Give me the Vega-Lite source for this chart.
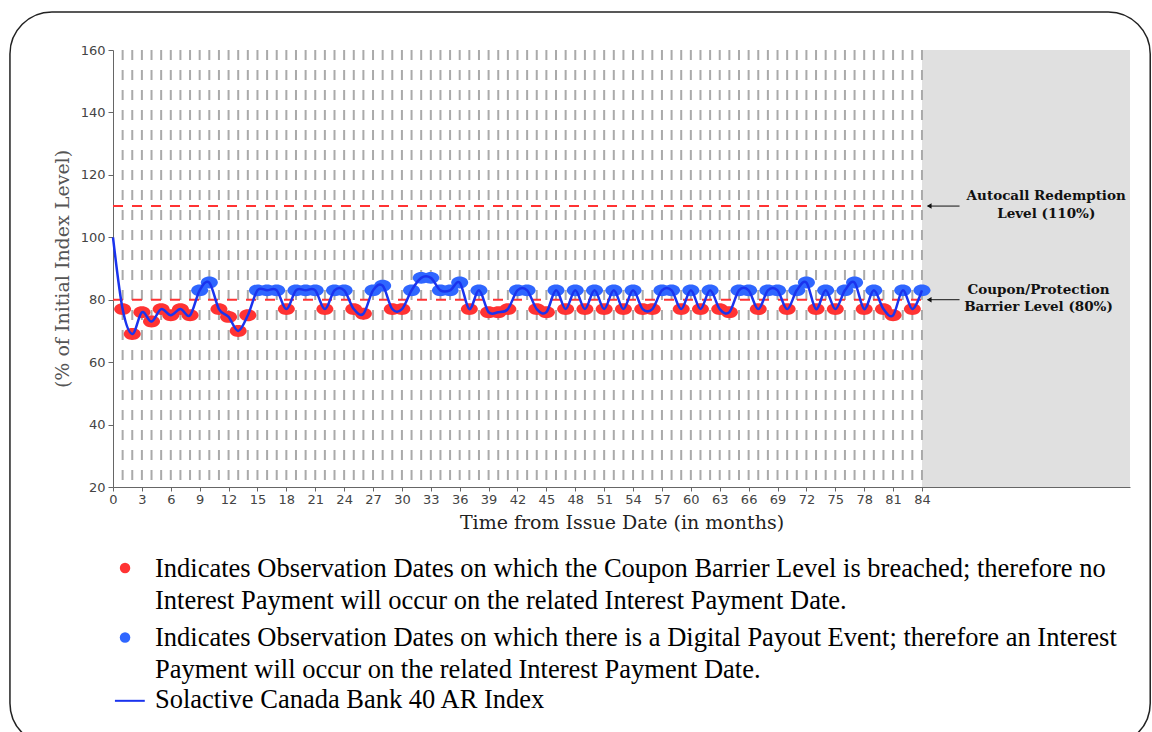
{
  "$schema": "https://vega.github.io/schema/vega-lite/v6.json",
  "width": 1017,
  "height": 437,
  "autosize": {"type": "none"},
  "padding": {"left": 113, "top": 50, "right": 22, "bottom": 245},
  "background": "white",
  "config": {
    "view": {"stroke": null},
    "axis": {"domainColor": "#666", "tickColor": "#666", "labelColor": "#444", "labelFont": "DejaVu Sans", "labelFontSize": 13, "titleFont": "DejaVu Serif", "titleFontWeight": "normal", "titleFontSize": 19, "grid": false},
    "axisX": {"tickSize": 4, "labelPadding": 2, "titlePadding": 7, "titleColor": "#222"},
    "axisY": {"tickSize": 5, "labelPadding": 3, "titlePadding": 8, "titleColor": "#555"}
  },
  "datasets": {
    "series": [
      {"month": 0, "value": 100, "status": null},
      {"month": 1, "value": 77, "status": "breach"},
      {"month": 2, "value": 69, "status": "breach"},
      {"month": 3, "value": 76, "status": "breach"},
      {"month": 4, "value": 73, "status": "breach"},
      {"month": 5, "value": 77, "status": "breach"},
      {"month": 6, "value": 75, "status": "breach"},
      {"month": 7, "value": 77, "status": "breach"},
      {"month": 8, "value": 75, "status": "breach"},
      {"month": 9, "value": 83, "status": "payout"},
      {"month": 10, "value": 85.5, "status": "payout"},
      {"month": 11, "value": 77, "status": "breach"},
      {"month": 12, "value": 74.5, "status": "breach"},
      {"month": 13, "value": 70, "status": "breach"},
      {"month": 14, "value": 75, "status": "breach"},
      {"month": 15, "value": 83, "status": "payout"},
      {"month": 16, "value": 83, "status": "payout"},
      {"month": 17, "value": 83, "status": "payout"},
      {"month": 18, "value": 77, "status": "breach"},
      {"month": 19, "value": 83, "status": "payout"},
      {"month": 20, "value": 83, "status": "payout"},
      {"month": 21, "value": 83, "status": "payout"},
      {"month": 22, "value": 77, "status": "breach"},
      {"month": 23, "value": 83, "status": "payout"},
      {"month": 24, "value": 83, "status": "payout"},
      {"month": 25, "value": 77, "status": "breach"},
      {"month": 26, "value": 75.5, "status": "breach"},
      {"month": 27, "value": 83, "status": "payout"},
      {"month": 28, "value": 84.5, "status": "payout"},
      {"month": 29, "value": 77, "status": "breach"},
      {"month": 30, "value": 77, "status": "breach"},
      {"month": 31, "value": 83, "status": "payout"},
      {"month": 32, "value": 87, "status": "payout"},
      {"month": 33, "value": 87, "status": "payout"},
      {"month": 34, "value": 83, "status": "payout"},
      {"month": 35, "value": 83, "status": "payout"},
      {"month": 36, "value": 85.5, "status": "payout"},
      {"month": 37, "value": 77, "status": "breach"},
      {"month": 38, "value": 83, "status": "payout"},
      {"month": 39, "value": 76, "status": "breach"},
      {"month": 40, "value": 76, "status": "breach"},
      {"month": 41, "value": 77, "status": "breach"},
      {"month": 42, "value": 83, "status": "payout"},
      {"month": 43, "value": 83, "status": "payout"},
      {"month": 44, "value": 77, "status": "breach"},
      {"month": 45, "value": 76, "status": "breach"},
      {"month": 46, "value": 83, "status": "payout"},
      {"month": 47, "value": 77, "status": "breach"},
      {"month": 48, "value": 83, "status": "payout"},
      {"month": 49, "value": 77, "status": "breach"},
      {"month": 50, "value": 83, "status": "payout"},
      {"month": 51, "value": 77, "status": "breach"},
      {"month": 52, "value": 83, "status": "payout"},
      {"month": 53, "value": 77, "status": "breach"},
      {"month": 54, "value": 83, "status": "payout"},
      {"month": 55, "value": 77, "status": "breach"},
      {"month": 56, "value": 77, "status": "breach"},
      {"month": 57, "value": 83, "status": "payout"},
      {"month": 58, "value": 83, "status": "payout"},
      {"month": 59, "value": 77, "status": "breach"},
      {"month": 60, "value": 83, "status": "payout"},
      {"month": 61, "value": 77, "status": "breach"},
      {"month": 62, "value": 83, "status": "payout"},
      {"month": 63, "value": 77, "status": "breach"},
      {"month": 64, "value": 76, "status": "breach"},
      {"month": 65, "value": 83, "status": "payout"},
      {"month": 66, "value": 83, "status": "payout"},
      {"month": 67, "value": 77, "status": "breach"},
      {"month": 68, "value": 83, "status": "payout"},
      {"month": 69, "value": 83, "status": "payout"},
      {"month": 70, "value": 77, "status": "breach"},
      {"month": 71, "value": 83, "status": "payout"},
      {"month": 72, "value": 85.5, "status": "payout"},
      {"month": 73, "value": 77, "status": "breach"},
      {"month": 74, "value": 83, "status": "payout"},
      {"month": 75, "value": 77, "status": "breach"},
      {"month": 76, "value": 83, "status": "payout"},
      {"month": 77, "value": 85.5, "status": "payout"},
      {"month": 78, "value": 77, "status": "breach"},
      {"month": 79, "value": 83, "status": "payout"},
      {"month": 80, "value": 77, "status": "breach"},
      {"month": 81, "value": 75, "status": "breach"},
      {"month": 82, "value": 83, "status": "payout"},
      {"month": 83, "value": 77, "status": "breach"},
      {"month": 84, "value": 83, "status": "payout"}
    ],
    "levels": [{"level": 110}, {"level": 80}],
    "one": [{}]
  },
  "layer": [
    {
      "data": {"name": "series"},
      "mark": {"type": "line", "interpolate": "cardinal", "color": "#1a33ee", "strokeWidth": 2.5, "opacity": 0},
      "encoding": {
        "x": {"field": "month", "type": "quantitative", "scale": {"domain": [0, 105.6], "nice": false, "zero": false}, "axis": {"values": [0, 3, 6, 9, 12, 15, 18, 21, 24, 27, 30, 33, 36, 39, 42, 45, 48, 51, 54, 57, 60, 63, 66, 69, 72, 75, 78, 81, 84], "tickCount": 30, "format": "d", "labelOverlap": false, "labelBound": false, "labelFlush": false, "title": "Time from Issue Date (in months)"}},
        "y": {"field": "value", "type": "quantitative", "scale": {"domain": [20, 160], "nice": false, "zero": false}, "axis": {"values": [20, 40, 60, 80, 100, 120, 140, 160], "tickCount": 10, "format": "d", "labelOverlap": false, "title": "(% of Initial Index Level)"}}
      }
    },
    {
      "data": {"name": "one"},
      "mark": {"type": "rect", "fill": "#e0e0e0"},
      "encoding": {
        "x": {"datum": 84, "type": "quantitative"},
        "x2": {"datum": 105.6},
        "y": {"datum": 20, "type": "quantitative"},
        "y2": {"datum": 160}
      }
    },
    {
      "data": {"name": "series"},
      "transform": [{"filter": "datum.month > 0"}],
      "mark": {"type": "rule", "color": "#aaaaaa", "strokeWidth": 2, "strokeDash": [10, 10]},
      "encoding": {
        "x": {"field": "month", "type": "quantitative"},
        "y": {"datum": 160, "type": "quantitative"},
        "y2": {"datum": 20}
      }
    },
    {
      "data": {"name": "levels"},
      "mark": {"type": "rule", "color": "#ff3333", "strokeWidth": 2, "strokeDash": [10, 9]},
      "encoding": {
        "x": {"datum": 0, "type": "quantitative"},
        "x2": {"datum": 84},
        "y": {"field": "level", "type": "quantitative"}
      }
    },
    {
      "data": {"name": "series"},
      "transform": [{"filter": "datum.status != null"}],
      "mark": {"type": "point", "filled": true, "opacity": 1, "size": 289, "shape": "M-1,0A1,0.7,0,1,1,1,0A1,0.7,0,1,1,-1,0Z"},
      "encoding": {
        "x": {"field": "month", "type": "quantitative"},
        "y": {"field": "value", "type": "quantitative"},
        "color": {"field": "status", "type": "nominal", "scale": {"domain": ["breach", "payout"], "range": ["#ff3333", "#2f66ff"]}, "legend": null}
      }
    },
    {
      "data": {"name": "series"},
      "mark": {"type": "line", "interpolate": "cardinal", "color": "#1a33ee", "strokeWidth": 2.5},
      "encoding": {
        "x": {"field": "month", "type": "quantitative"},
        "y": {"field": "value", "type": "quantitative"}
      }
    },
    {
      "data": {"name": "levels"},
      "mark": {"type": "rule", "color": "#111", "strokeWidth": 1},
      "encoding": {
        "x": {"datum": 84.6, "type": "quantitative"},
        "x2": {"datum": 87.9},
        "y": {"field": "level", "type": "quantitative"}
      }
    },
    {
      "data": {"name": "levels"},
      "mark": {"type": "point", "shape": "triangle-left", "filled": true, "color": "#111", "opacity": 1, "size": 30},
      "encoding": {
        "x": {"datum": 84.75, "type": "quantitative"},
        "y": {"field": "level", "type": "quantitative"}
      }
    },
    {
      "data": {"name": "one"},
      "mark": {"type": "text", "font": "DejaVu Serif", "fontWeight": "bold", "fontSize": 13.5, "align": "center", "baseline": "middle", "lineBreak": "\n", "lineHeight": 18, "color": "#111"},
      "encoding": {
        "x": {"datum": 96.9, "type": "quantitative"},
        "y": {"datum": 113.2, "type": "quantitative"},
        "text": {"value": "Autocall Redemption\nLevel (110%)"}
      }
    },
    {
      "data": {"name": "one"},
      "mark": {"type": "text", "font": "DejaVu Serif", "fontWeight": "bold", "fontSize": 13.5, "align": "center", "baseline": "middle", "lineBreak": "\n", "lineHeight": 17, "color": "#111"},
      "encoding": {
        "x": {"datum": 96.1, "type": "quantitative"},
        "y": {"datum": 83.1, "type": "quantitative"},
        "text": {"value": "Coupon/Protection\nBarrier Level (80%)"}
      }
    },
    {
      "data": {"name": "one"},
      "mark": {"type": "point", "shape": "circle", "filled": true, "opacity": 1, "color": "#ff3333", "size": 110},
      "encoding": {
        "x": {"datum": 1.25, "type": "quantitative"},
        "y": {"datum": -5.95, "type": "quantitative"}
      }
    },
    {
      "data": {"name": "one"},
      "mark": {"type": "point", "shape": "circle", "filled": true, "opacity": 1, "color": "#2f66ff", "size": 110},
      "encoding": {
        "x": {"datum": 1.25, "type": "quantitative"},
        "y": {"datum": -28.2, "type": "quantitative"}
      }
    },
    {
      "data": {"name": "one"},
      "mark": {"type": "rule", "color": "#1a33ee", "strokeWidth": 2},
      "encoding": {
        "x": {"datum": 0.2, "type": "quantitative"},
        "x2": {"datum": 3.3},
        "y": {"datum": -48.5, "type": "quantitative"}
      }
    },
    {
      "data": {"name": "one"},
      "mark": {"type": "text", "font": "Liberation Serif", "fontSize": 26.5, "align": "left", "baseline": "middle", "lineBreak": "\n", "lineHeight": 32, "color": "#000"},
      "encoding": {
        "x": {"datum": 4.36, "type": "quantitative"},
        "y": {"datum": -6.27, "type": "quantitative"},
        "text": {"value": "Indicates Observation Dates on which the Coupon Barrier Level is breached; therefore no\nInterest Payment will occur on the related Interest Payment Date."}
      }
    },
    {
      "data": {"name": "one"},
      "mark": {"type": "text", "font": "Liberation Serif", "fontSize": 26.5, "align": "left", "baseline": "middle", "lineBreak": "\n", "lineHeight": 32, "color": "#000"},
      "encoding": {
        "x": {"datum": 4.36, "type": "quantitative"},
        "y": {"datum": -28.38, "type": "quantitative"},
        "text": {"value": "Indicates Observation Dates on which there is a Digital Payout Event; therefore an Interest\nPayment will occur on the related Interest Payment Date."}
      }
    },
    {
      "data": {"name": "one"},
      "mark": {"type": "text", "font": "Liberation Serif", "fontSize": 26.5, "align": "left", "baseline": "middle", "color": "#000"},
      "encoding": {
        "x": {"datum": 4.36, "type": "quantitative"},
        "y": {"datum": -48.24, "type": "quantitative"},
        "text": {"value": "Solactive Canada Bank 40 AR Index"}
      }
    },
    {
      "data": {"name": "one"},
      "mark": {"type": "rect", "fill": null, "fillOpacity": 0, "stroke": "#222", "strokeWidth": 1.5, "cornerRadius": 42},
      "encoding": {
        "x": {"datum": -10.7, "type": "quantitative"},
        "x2": {"datum": 107.7},
        "y": {"datum": 172.2, "type": "quantitative"},
        "y2": {"datum": -62.7}
      }
    }
  ]
}
